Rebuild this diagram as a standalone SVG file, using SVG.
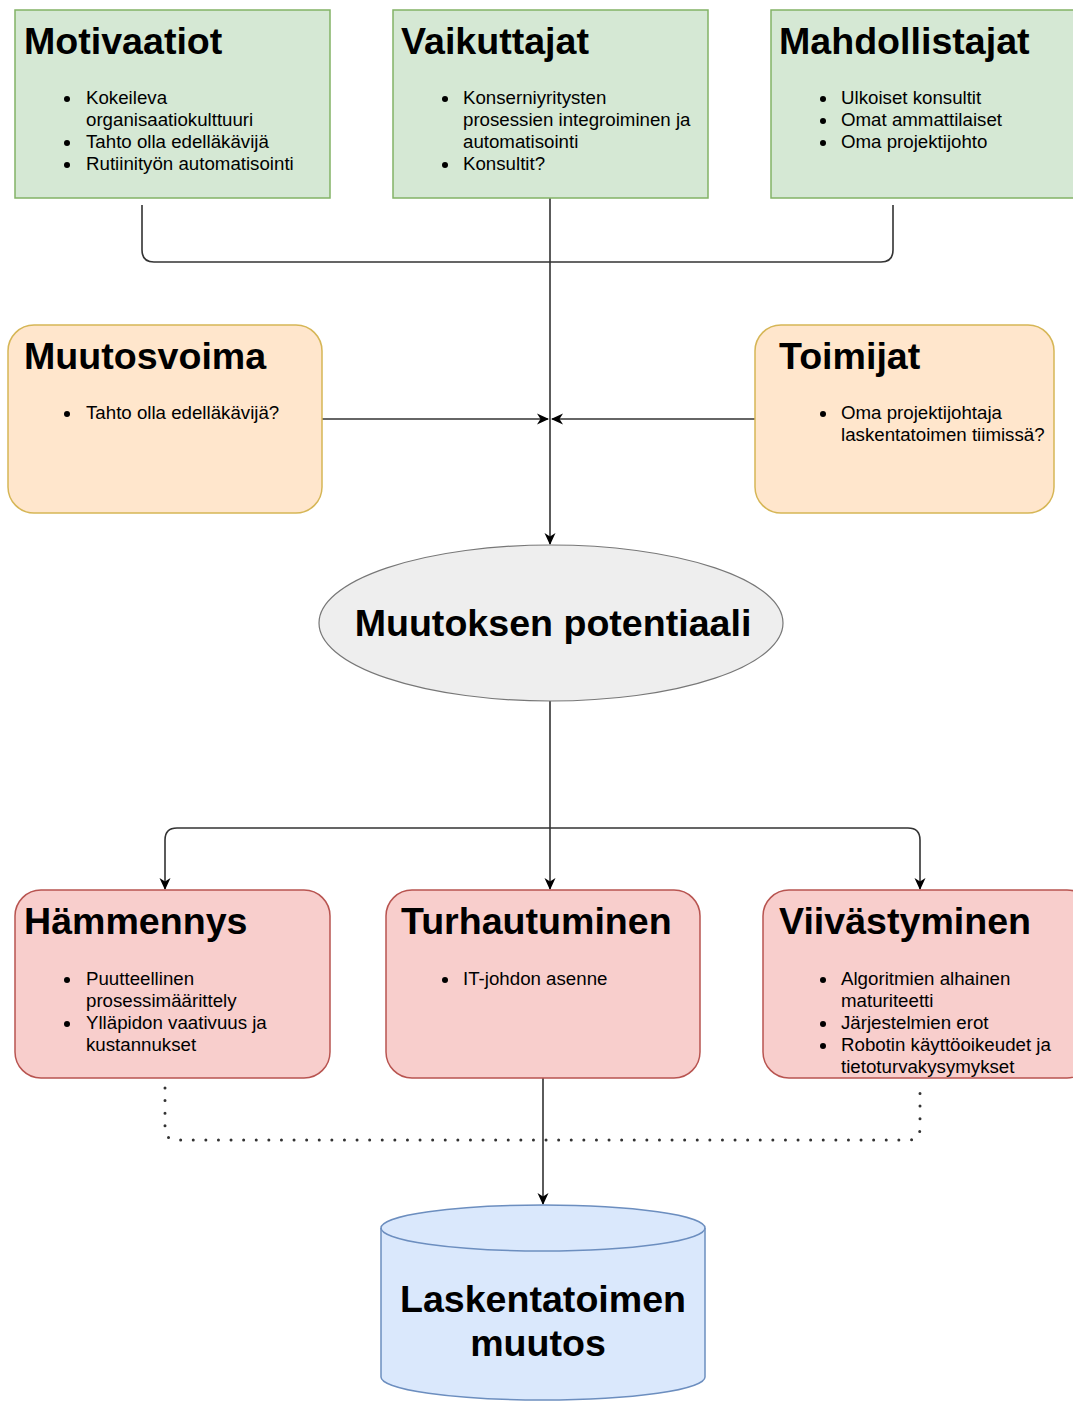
<svg xmlns="http://www.w3.org/2000/svg" width="1073" height="1403" viewBox="0 0 1073 1403">
<style>
.t{font-family:"Liberation Sans",Arial,Helvetica,sans-serif;font-weight:bold;font-size:37.6px;fill:#000}
.b{font-family:"Liberation Sans",Arial,Helvetica,sans-serif;font-size:18.7px;fill:#000}
.g{fill:#d5e8d4;stroke:#82b366;stroke-width:1.5}
.o{fill:#ffe6cc;stroke:#d6b656;stroke-width:1.5}
.r{fill:#f8cecc;stroke:#b85450;stroke-width:1.5}
.c{fill:none;stroke:#333;stroke-width:1.6}
.d{fill:none;stroke:#333;stroke-width:3;stroke-linecap:round;stroke-dasharray:0 12.6}
</style>
<defs>
<marker id="ar" viewBox="0 0 12 12" refX="11" refY="6" markerWidth="12" markerHeight="12" markerUnits="userSpaceOnUse" orient="auto">
<path d="M0,0.5 L12,6 L0,11.5 L3.5,6 Z" fill="#000"/>
</marker>
</defs>
<rect width="1073" height="1403" fill="#fff"/>
<g id="connectors">
<path class="c" d="M142,205 V250 Q142,262 154,262 H881 Q893,262 893,250 V205"/>
<path class="c" d="M550,198 V544" marker-end="url(#ar)"/>
<path class="c" d="M322,419 H548" marker-end="url(#ar)"/>
<path class="c" d="M755,419 H552" marker-end="url(#ar)"/>
<path class="c" d="M550,701 V889" marker-end="url(#ar)"/>
<path class="c" d="M550,828 H177 Q165,828 165,840 V889" marker-end="url(#ar)"/>
<path class="c" d="M550,828 H908 Q920,828 920,840 V889" marker-end="url(#ar)"/>
<path class="c" d="M543,1078 V1204" marker-end="url(#ar)"/>
<path class="d" d="M165,1088 V1128 Q165,1140 177,1140 H908 Q920,1140 920,1128 V1088"/>
</g>
<g id="motivaatiot">
<rect class="g" x="15" y="10" width="315" height="188"/>
<text class="t" x="24" y="54">Motivaatiot</text>
<circle cx="67" cy="99" r="3"/><circle cx="67" cy="143" r="3"/><circle cx="67" cy="165" r="3"/>
<text class="b" x="86" y="104">Kokeileva</text>
<text class="b" x="86" y="126">organisaatiokulttuuri</text>
<text class="b" x="86" y="148">Tahto olla edelläkävijä</text>
<text class="b" x="86" y="170">Rutiinityön automatisointi</text>
</g>
<g id="vaikuttajat">
<rect class="g" x="393" y="10" width="315" height="188"/>
<text class="t" x="401" y="54">Vaikuttajat</text>
<circle cx="445" cy="99" r="3"/><circle cx="445" cy="165" r="3"/>
<text class="b" x="463" y="104">Konserniyritysten</text>
<text class="b" x="463" y="126">prosessien integroiminen ja</text>
<text class="b" x="463" y="148">automatisointi</text>
<text class="b" x="463" y="170">Konsultit?</text>
</g>
<g id="mahdollistajat">
<rect class="g" x="771" y="10" width="315" height="188"/>
<text class="t" x="779" y="54">Mahdollistajat</text>
<circle cx="823" cy="99" r="3"/><circle cx="823" cy="121" r="3"/><circle cx="823" cy="143" r="3"/>
<text class="b" x="841" y="104">Ulkoiset konsultit</text>
<text class="b" x="841" y="126">Omat ammattilaiset</text>
<text class="b" x="841" y="148">Oma projektijohto</text>
</g>
<g id="muutosvoima">
<rect class="o" x="8" y="325" width="314" height="188" rx="26"/>
<text class="t" x="24" y="369">Muutosvoima</text>
<circle cx="67" cy="414" r="3"/>
<text class="b" x="86" y="419">Tahto olla edelläkävijä?</text>
</g>
<g id="toimijat">
<rect class="o" x="755" y="325" width="299" height="188" rx="26"/>
<text class="t" x="779" y="369">Toimijat</text>
<circle cx="823" cy="414" r="3"/>
<text class="b" x="841" y="419">Oma projektijohtaja</text>
<text class="b" x="841" y="441">laskentatoimen tiimissä?</text>
</g>
<g id="potentiaali">
<ellipse cx="551" cy="623" rx="232" ry="78" fill="#eeeeee" stroke="#777" stroke-width="1.2"/>
<text class="t" x="553" y="636" text-anchor="middle">Muutoksen potentiaali</text>
</g>
<g id="hammennys">
<rect class="r" x="15" y="890" width="315" height="188" rx="26"/>
<text class="t" x="24" y="934">Hämmennys</text>
<circle cx="67" cy="980" r="3"/><circle cx="67" cy="1024" r="3"/>
<text class="b" x="86" y="985">Puutteellinen</text>
<text class="b" x="86" y="1007">prosessimäärittely</text>
<text class="b" x="86" y="1029">Ylläpidon vaativuus ja</text>
<text class="b" x="86" y="1051">kustannukset</text>
</g>
<g id="turhautuminen">
<rect class="r" x="386" y="890" width="314" height="188" rx="26"/>
<text class="t" x="401" y="934">Turhautuminen</text>
<circle cx="445" cy="980" r="3"/>
<text class="b" x="463" y="985">IT-johdon asenne</text>
</g>
<g id="viivastyminen">
<rect class="r" x="763" y="890" width="330" height="188" rx="26"/>
<text class="t" x="779" y="934">Viivästyminen</text>
<circle cx="823" cy="980" r="3"/><circle cx="823" cy="1024" r="3"/><circle cx="823" cy="1046" r="3"/>
<text class="b" x="841" y="985">Algoritmien alhainen</text>
<text class="b" x="841" y="1007">maturiteetti</text>
<text class="b" x="841" y="1029">Järjestelmien erot</text>
<text class="b" x="841" y="1051">Robotin käyttöoikeudet ja</text>
<text class="b" x="841" y="1073">tietoturvakysymykset</text>
</g>
<g id="laskentatoimen">
<path d="M381,1228 A162,23 0 0 1 705,1228 V1377 A162,23 0 0 1 381,1377 Z" fill="#dae8fc" stroke="#6c8ebf" stroke-width="1.5"/>
<path d="M381,1228 A162,23 0 0 0 705,1228" fill="none" stroke="#6c8ebf" stroke-width="1.5"/>
<text class="t" x="543" y="1312" text-anchor="middle">Laskentatoimen</text>
<text class="t" x="538" y="1356" text-anchor="middle">muutos</text>
</g>
</svg>
